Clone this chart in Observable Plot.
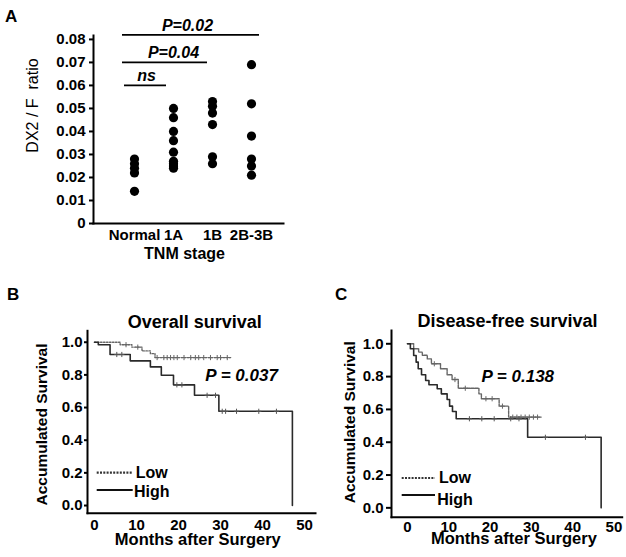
<!DOCTYPE html>
<html>
<head>
<meta charset="utf-8">
<script src="https://cdn.jsdelivr.net/npm/d3@7"></script>
<script src="https://cdn.jsdelivr.net/npm/@observablehq/plot@0.6"></script>
<style>
  body { margin: 0; background: #fff; }
  #wrap { position: relative; width: 626px; height: 557px; overflow: hidden; background: #fff;
          font-family: "Liberation Sans", Arial, Helvetica, sans-serif; color: #000; }
  .panel { position: absolute; }
  .letter { position: absolute; font-weight: bold; font-size: 17px; line-height: 1; }
</style>
</head>
<body>
<div id="wrap">
  <div class="letter" style="left:5px; top:8px;">A</div>
  <div class="letter" style="left:7px; top:286px;">B</div>
  <div class="letter" style="left:335px; top:286px;">C</div>
  <div class="panel" id="pA" style="left:0px; top:0px; width:300px; height:270px;"></div>
  <div class="panel" id="pB" style="left:0px; top:290px; width:320px; height:267px;"></div>
  <div class="panel" id="pC" style="left:310px; top:290px; width:316px; height:267px;"></div>
</div>
<script>
// ---------------- Panel A data ----------------
const stages = ["Normal", "1A", "1B", "2B-3B"];
const ratioNormal = [0.028, 0.026, 0.024, 0.022, 0.014];
const ratio1A = [0.050, 0.046, 0.040, 0.036, 0.031, 0.027, 0.026, 0.025, 0.024];
const ratio1B = [0.053, 0.051, 0.048, 0.043, 0.029, 0.026];
const ratio2B3B = [0.069, 0.052, 0.038, 0.028, 0.025, 0.021];
const yTicksA = [0, 0.01, 0.02, 0.03, 0.04, 0.05, 0.06, 0.07, 0.08];
const sigFrom = ["Normal", "Normal", "Normal"];
const sigTo = ["1A", "1B", "2B-3B"];
const sigLevel = [0.060, 0.070, 0.082];
const sigLabel = ["ns", "P=0.04", "P=0.02"];

// ---------------- Panel B data (overall survival) ----------------
const osLowTime = [0, 6.1, 8.9, 11.3, 13.3, 14.4, 32.5];
const osLowSurv = [1.0, 0.985, 0.970, 0.947, 0.930, 0.906, 0.906];
const osHighTime = [0, 0.9, 3.7, 8.5, 13.3, 15.9, 18.8, 23.8, 29.6, 47.1];
const osHighSurv = [1.0, 0.985, 0.925, 0.886, 0.849, 0.798, 0.739, 0.675, 0.577, 0.0];
const osLowCensor = [7.5, 10.3, 14.9, 16.5, 17.3, 18.1, 18.9, 19.7, 21.3, 22.9, 24.0, 24.8, 26.0, 27.6, 29.2, 30.0, 31.6];
const osHighCensor = [5.3, 6.5, 19.6, 20.8, 26.8, 28.8, 30.4, 31.2, 33.8, 39.1, 43.3];

// ---------------- Panel C data (disease-free survival) ----------------
const dfsLowTime = [0, 1.5, 2.7, 3.6, 4.8, 5.8, 8.0, 9.6, 10.8, 12.3, 17.3, 17.9, 22.2, 24.5, 32.5];
const dfsLowSurv = [1.0, 0.970, 0.949, 0.930, 0.908, 0.878, 0.848, 0.811, 0.782, 0.729, 0.695, 0.665, 0.620, 0.553, 0.553];
const dfsHighTime = [0, 0.7, 1.5, 2.1, 2.6, 3.4, 4.4, 5.2, 7.2, 8.2, 9.6, 10.2, 10.9, 11.8, 29.1, 46.9];
const dfsHighSurv = [1.0, 0.970, 0.929, 0.888, 0.848, 0.811, 0.776, 0.750, 0.726, 0.695, 0.660, 0.620, 0.587, 0.543, 0.430, 0.0];
const dfsLowCensor = [6.5, 11.5, 14.0, 19.0, 20.5, 23.0, 25.5, 26.5, 27.5, 28.5, 29.5, 30.5, 31.5];
const dfsHighCensor = [15.0, 18.0, 21.0, 25.0, 27.0, 33.4, 43.1];

const kmYTicks = [0, 0.2, 0.4, 0.6, 0.8, 1.0];
const kmXTicks = [0, 10, 20, 30, 40, 50];
const groupLabels = ["Low", "High"];

const FONT = "'Liberation Sans', Arial, Helvetica, sans-serif";

// ---------------- Panel A ----------------
const ratios = [ratioNormal, ratio1A, ratio1B, ratio2B3B];
const dotsA = stages.flatMap((s, i) => ratios[i].map(v => ({stage: s, ratio: v})));
const sigRows = sigLabel.map((label, i) => ({from: sigFrom[i], to: sigTo[i], y: sigLevel[i], label}));
const sigInsets = [[-10, 7], [-12, 5], [-12, -8]];

const sigMarks = sigRows.flatMap((row, i) => [
  Plot.ruleY([row], {x1: "from", x2: "to", y: "y", stroke: "#000", strokeWidth: 1.8,
    insetLeft: sigInsets[i][0], insetRight: sigInsets[i][1]}),
  Plot.text([row], {x: i === 0 ? "from" : "to", y: "y", text: "label",
    dx: i === 0 ? 12 : (i === 1 ? -39 : -64), dy: -4, lineAnchor: "bottom",
    fontStyle: "italic", fontSize: 16})
]);

const plotA = Plot.plot({
  width: 300, height: 270,
  marginLeft: 93, marginRight: 17, marginTop: 35, marginBottom: 47,
  style: {fontFamily: FONT, fontWeight: "bold", fontSize: "15px", color: "#000", background: "transparent", overflow: "visible"},
  x: {type: "point", domain: stages, padding: 0, insetLeft: 40, insetRight: 31},
  y: {domain: [0, 0.0817]},
  marks: [
    Plot.frame({anchor: "left", stroke: "#000", strokeWidth: 2}),
    Plot.frame({anchor: "bottom", stroke: "#000", strokeWidth: 2}),
    Plot.axisY(yTicksA, {tickSize: 4, tickPadding: 4, strokeWidth: 2, label: null,
      tickFormat: d => d === 0 ? "0" : d.toFixed(2)}),
    Plot.axisX({tickSize: 0, tickPadding: 6, label: null}),
    Plot.dot(dotsA, {x: "stage", y: "ratio", r: 4.6, fill: "#000"}),
    ...sigMarks,
    Plot.text(["DX2 / F  ratio"], {text: d => d, frameAnchor: "left", textAnchor: "middle", lineAnchor: "middle",
      rotate: -90, dx: -61, dy: -24, fontWeight: "normal", fontSize: 16}),
    Plot.text(["TNM stage"], {text: d => d, frameAnchor: "bottom", dx: -4, dy: 30, lineAnchor: "middle", fontSize: 16})
  ]
});
document.getElementById("pA").append(plotA);

// ---------------- KM panels ----------------
function stepData(times, survs) {
  return times.map((t, i) => ({t, s: survs[i]}));
}
function survAt(times, survs, t) {
  let s = survs[0];
  for (let i = 0; i < times.length; i++) if (times[i] <= t) s = survs[i];
  return s;
}
function censorData(censor, times, survs) {
  return censor.map(t => ({t, s: survAt(times, survs, t)}));
}

function kmPanel(L, D) {
  const low = stepData(D.lowTime, D.lowSurv);
  const high = stepData(D.highTime, D.highSurv);
  const lowC = censorData(D.lowCensor, D.lowTime, D.lowSurv);
  const highC = censorData(D.highCensor, D.highTime, D.highSurv);
  const legend = (index, scales, values, dims) => {
    const g = d3.create("svg:g");
    const x0 = dims.marginLeft, yb = dims.height - dims.marginBottom;
    L.legRows.forEach((r, i) => {
      g.append("line")
        .attr("x1", x0 + L.legLine[0]).attr("x2", x0 + L.legLine[1])
        .attr("y1", yb + r.line).attr("y2", yb + r.line)
        .attr("stroke", i === 0 ? "#333" : "#111")
        .attr("stroke-width", i === 0 ? 2.2 : 2)
        .attr("stroke-dasharray", i === 0 ? "2,1.3" : null);
      g.append("text")
        .attr("x", x0 + L.legText).attr("y", yb + r.text).attr("dy", "0.35em")
        .attr("font-size", 16).attr("font-weight", "bold").attr("font-family", FONT)
        .attr("fill", "#000")
        .text(groupLabels[i]);
    });
    return g.node();
  };
  return Plot.plot({
    width: L.width, height: L.height,
    marginLeft: L.ml, marginRight: L.mr, marginTop: L.mt, marginBottom: L.mb,
    style: {fontFamily: FONT, fontWeight: "bold", fontSize: "15px", color: "#000", background: "transparent", overflow: "visible"},
    x: {domain: L.xDomain},
    y: {domain: L.yDomain},
    marks: [
      Plot.frame({anchor: "left", stroke: "#000", strokeWidth: 2}),
      Plot.frame({anchor: "bottom", stroke: "#000", strokeWidth: 2}),
      Plot.axisY(kmYTicks, {tickSize: L.yTickSize, tickPadding: L.yTickPad, strokeWidth: 2, label: null,
        tickFormat: d => d.toFixed(1)}),
      Plot.axisX(kmXTicks, {tickSize: 0, tickPadding: L.xTickPad, label: null, tickFormat: d => String(d)}),
      Plot.line(low, {x: "t", y: "s", curve: "step-after", stroke: "#666", strokeWidth: 1.4, strokeDasharray: L.lowDash}),
      Plot.line(high, {x: "t", y: "s", curve: "step-after", stroke: "#2a2a2a", strokeWidth: 1.6}),
      Plot.dot(lowC, {x: "t", y: "s", symbol: "plus", r: 1.8, stroke: "#666", strokeWidth: 1}),
      Plot.dot(highC, {x: "t", y: "s", symbol: "plus", r: 1.8, stroke: "#555", strokeWidth: 1}),
      Plot.text([D.title], {text: d => d, frameAnchor: "top", lineAnchor: "bottom", dx: L.titleDx, dy: L.titleDy, fontSize: 18}),
      Plot.text(["Accumulated Survival"], {text: d => d, frameAnchor: "left", textAnchor: "middle", lineAnchor: "middle",
        rotate: -90, dx: L.ylabDx, dy: L.ylabDy, fontSize: 15.5}),
      Plot.text(["Months after Surgery"], {text: d => d, frameAnchor: "bottom", lineAnchor: "middle", dx: L.xlabDx, dy: L.xlabDy, fontSize: 16.5}),
      Plot.text([D.p], {x: D.pAt[0], y: D.pAt[1], text: d => d, fontStyle: "italic", fontSize: 17, lineAnchor: "middle"}),
      legend
    ]
  });
}

const plotB = kmPanel({
  width: 320, height: 267, ml: 87, mr: 5, mt: 40.3, mb: 44.3,
  xDomain: [-1.67, 52.6], yDomain: [-0.047, 1.07],
  yTickSize: 3, yTickPad: 2, xTickPad: 6,
  titleDx: -6.7, titleDy: -3,
  ylabDx: -45.3, ylabDy: 2.5,
  xlabDx: -3.7, xlabDy: 27,
  lowDash: "1.5,1.5",
  legLine: [9.7, 45.7], legText: 64.7,
  legRows: [{line: -40, text: -40.4}, {line: -22.7, text: -21.4}]
}, {
  title: "Overall survival", p: "P = 0.037", pAt: [35, 0.794],
  lowTime: osLowTime, lowSurv: osLowSurv, highTime: osHighTime, highSurv: osHighSurv,
  lowCensor: osLowCensor, highCensor: osHighCensor
});
document.getElementById("pB").append(plotB);

const plotC = kmPanel({
  width: 316, height: 267, ml: 81, mr: 4.3, mt: 40, mb: 40.3,
  xDomain: [-3.87, 52.0], yDomain: [-0.057, 1.081],
  yTickSize: 5, yTickPad: 3, xTickPad: 4,
  titleDx: 0.7, titleDy: -4,
  ylabDx: -41, ylabDy: -1.6,
  xlabDx: 7, xlabDy: 22,
  lowDash: "3,1",
  legLine: [10.7, 44], legText: 64,
  legRows: [{line: -38.7, text: -39}, {line: -21.7, text: -17.7}]
}, {
  title: "Disease-free survival", p: "P = 0.138", pAt: [26.7, 0.80],
  lowTime: dfsLowTime, lowSurv: dfsLowSurv, highTime: dfsHighTime, highSurv: dfsHighSurv,
  lowCensor: dfsLowCensor, highCensor: dfsHighCensor
});
document.getElementById("pC").append(plotC);
</script>
</body>
</html>
